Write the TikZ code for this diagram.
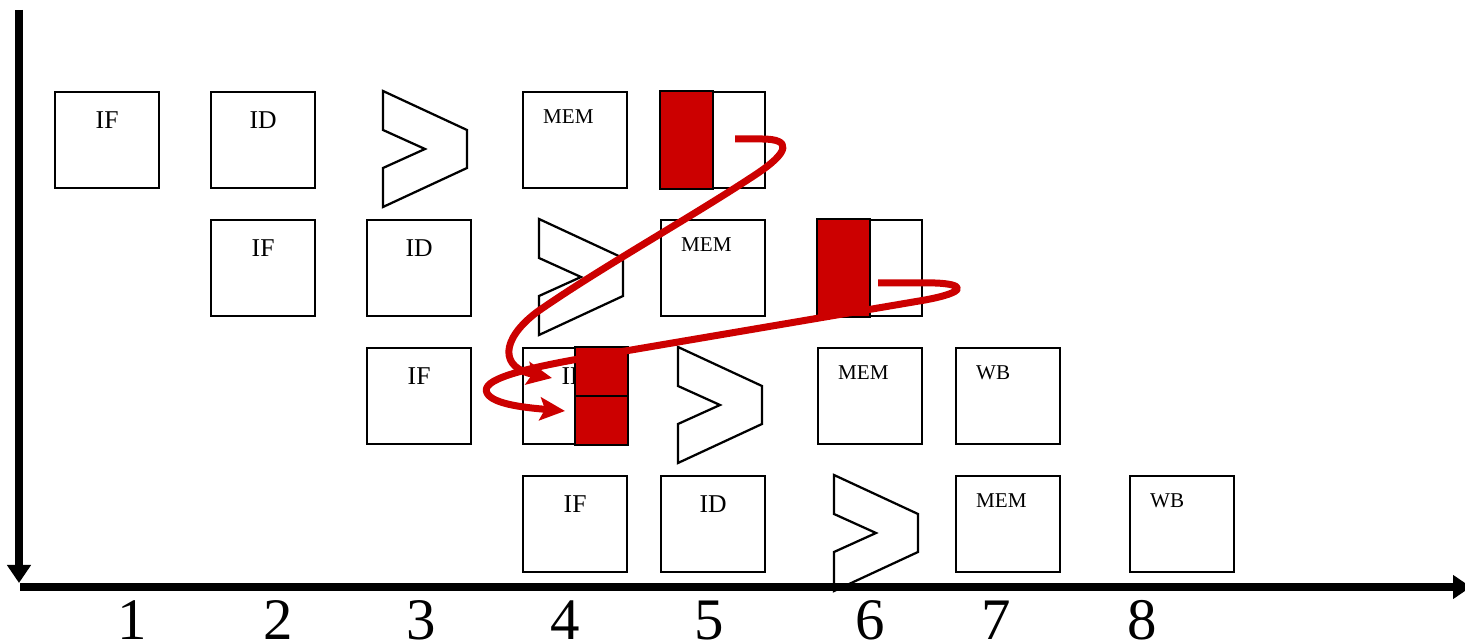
\documentclass[tikz,border=0pt]{standalone}
\usepackage{fontspec}
\setmainfont{Liberation Serif}
\usetikzlibrary{arrows.meta}
\definecolor{regred}{HTML}{CC0000}

\begin{document}
\begin{tikzpicture}[x=0.02cm,y=-0.02cm,
        stage/.style={draw,line width=0.045cm,anchor=north west,minimum width=2.08cm,minimum height=1.92cm,inner sep=0pt,text height=0.72cm,text depth=1.2cm,font=\fontsize{14.6}{16}\selectfont},
        smallstage/.style={stage,inner xsep=0.4cm,text width=1.28cm,align=left,text height=0.62cm,text depth=1.3cm,font=\fontsize{12}{14}\selectfont},
        regfill/.style={fill=regred,draw=black,line width=0.045cm},
        hazard/.style={regred,line width=0.14cm,line join=round,-{Stealth[length=0.5cm,width=0.46cm,inset=0.1cm]}},
        axis/.style={line width=0.16cm,-{Triangle[length=0.36cm,width=0.46cm]}}]
        \useasboundingbox (0,0) rectangle (1465,644);

        \node[stage] (if1) at (54,91) {IF};
        \node[stage] (id1) at (210,91) {ID};
        \node[smallstage] (mem1) at (522,91) {MEM};
        \node[stage] (reg1) at (660,91) {};

        \node[stage] (if2) at (210,219) {IF};
        \node[stage] (id2) at (366,219) {ID};
        \node[smallstage] (mem2) at (660,219) {MEM};
        \node[stage] (reg2) at (817,219) {};

        \node[stage] (if3) at (366,347) {IF};
        \node[stage] (id3) at (522,347) {ID};
        \node[smallstage] (mem3) at (817,347) {MEM};
        \node[smallstage] (wb3) at (955,347) {WB};

        \node[stage] (if4) at (522,475) {IF};
        \node[stage] (id4) at (660,475) {ID};
        \node[smallstage] (mem4) at (955,475) {MEM};
        \node[smallstage] (wb4) at (1129,475) {WB};

        \draw[regfill] (reg1.north west) rectangle (reg1.south);
        \draw[regfill] (reg2.north west) rectangle (reg2.south);
        \draw[regfill] (id3.north) rectangle (id3.east);
        \draw[regfill] (id3.center) rectangle (id3.south east);

        \foreach \x/\y in {383/91,539/219,678/347,834/475}
            \draw[line width=0.045cm] (\x,\y) -- ++(84,39) -- ++(0,38) -- ++(-84,39) -- ++(0,-39) -- ++(42,-19) -- ++(-42,-19) -- cycle;

        \coordinate (ytop) at (19,10);
        \coordinate (yend) at (19,583);
        \coordinate (xstart) at (20,587);
        \coordinate (xend) at (1471,587);
        \draw[axis] (ytop) -- (yend);
        \draw[axis] (xstart) -- (xend);

        \foreach \n/\x in {1/132,2/278,3/421,4/565,5/709,6/870,7/996,8/1142}
            \node[anchor=base,inner sep=0pt,font=\fontsize{33.5}{36}\selectfont] (tick\n) at (\x,640) {\n};

        \coordinate (src1) at (735,139);
        \coordinate (dst1) at (552,378);
        \draw[hazard] (src1) -- (762,139) .. controls (792,139) and (790,152) .. (755,175) .. controls (690,218) and (600,268) .. (537,312) .. controls (500,340) and (500,368) .. (dst1);

        \coordinate (src2) at (878,283);
        \coordinate (dst2) at (565,411);
        \draw[hazard] (src2) -- (935,283) .. controls (965,284) and (968,292) .. (925,300) -- (590,357) .. controls (520,369) and (480,380) .. (487,393) .. controls (493,405) and (530,408) .. (dst2);
\end{tikzpicture}
\end{document}
